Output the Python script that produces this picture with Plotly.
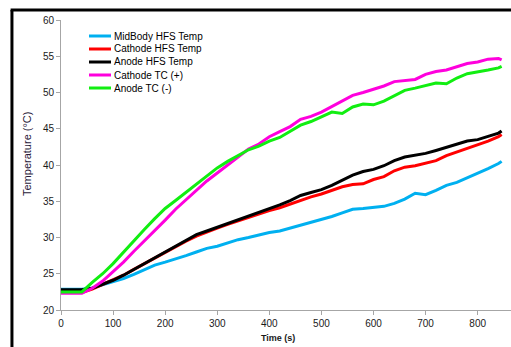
import plotly.graph_objects as go

time_s = [0, 20, 40, 60, 80, 100, 120, 140, 160, 180, 200, 220, 240, 260, 280, 300, 320, 340, 360, 380,
          400, 420, 440, 460, 480, 500, 520, 540, 560, 580, 600, 620, 640, 660, 680, 700, 720, 740, 760,
          780, 800, 820, 840, 846]

midbody_hfs = [22.85, 22.85, 22.85, 23.05, 23.45, 23.9, 24.35, 24.9, 25.6, 26.2, 26.6, 27.0, 27.5, 28.0,
               28.5, 28.8, 29.3, 29.7, 30.0, 30.4, 30.7, 30.9, 31.3, 31.7, 32.0, 32.4, 32.9, 33.4, 33.9,
               34.0, 34.1, 34.3, 34.7, 35.3, 36.1, 35.9, 36.5, 37.2, 37.6, 38.2, 38.9, 39.5, 40.2, 40.5]

cathode_hfs = [22.4, 22.4, 22.4, 22.9, 23.5, 24.1, 24.8, 25.6, 26.4, 27.2, 28.0, 28.8, 29.5, 30.2, 30.8,
               31.3, 31.8, 32.3, 32.8, 33.2, 33.7, 34.1, 34.6, 35.2, 35.6, 36.0, 36.5, 37.0, 37.3, 37.4,
               38.0, 38.4, 39.2, 39.7, 39.9, 40.3, 40.6, 41.3, 41.8, 42.3, 42.7, 43.3, 43.9, 44.2]

anode_hfs = [22.8, 22.8, 22.8, 23.0, 23.5, 24.1, 24.8, 25.6, 26.4, 27.2, 28.0, 28.9, 29.7, 30.4, 30.9,
             31.4, 31.9, 32.4, 33.0, 33.4, 33.9, 34.5, 35.1, 35.8, 36.2, 36.6, 37.2, 37.9, 38.6, 39.1,
             39.4, 39.9, 40.6, 41.1, 41.3, 41.6, 42.0, 42.4, 42.9, 43.3, 43.5, 44.0, 44.4, 44.7]

cathode_tc = [22.3, 22.3, 22.3, 23.0, 24.0, 25.3, 26.6, 28.1, 29.5, 31.0, 32.4, 33.9, 35.2, 36.6, 37.8,
              38.9, 40.0, 41.1, 42.2, 42.9, 43.9, 44.6, 45.3, 46.3, 46.7, 47.3, 48.1, 48.9, 49.6, 50.0,
              50.4, 50.9, 51.5, 51.7, 51.8, 52.5, 52.9, 53.1, 53.5, 54.0, 54.2, 54.6, 54.7, 54.5]

anode_tc = [22.5, 22.5, 22.5, 23.8, 25.0, 26.4, 28.0, 29.6, 31.1, 32.6, 34.0, 35.1, 36.2, 37.3, 38.5,
            39.6, 40.5, 41.3, 42.1, 42.6, 43.3, 43.8, 44.7, 45.5, 46.0, 46.7, 47.3, 47.1, 48.0, 48.4,
            48.3, 48.8, 49.5, 50.3, 50.6, 51.0, 51.3, 51.2, 52.0, 52.6, 52.8, 53.1, 53.4, 53.6]

series_names = ["MidBody HFS Temp", "Cathode HFS Temp", "Anode HFS Temp", "Cathode TC (+)", "Anode TC (-)"]
series_values = [midbody_hfs, cathode_hfs, anode_hfs, cathode_tc, anode_tc]
series_colors = ["#00B0F0", "#FF0000", "#000000", "#FF00DD", "#11EE11"]

x_ticks = [0, 100, 200, 300, 400, 500, 600, 700, 800]
y_ticks = [20, 25, 30, 35, 40, 45, 50, 55, 60]

FONT = "Liberation Sans"

fig = go.Figure()
for name, vals, col in zip(series_names, series_values, series_colors):
    fig.add_trace(go.Scatter(x=time_s, y=vals, mode="lines", name=name,
                             line=dict(color=col, width=3)))

axis_common = dict(showgrid=False, zeroline=False, showline=True, linecolor="#A6A6A6", linewidth=1,
                   ticks="outside", ticklen=4, tickcolor="#A6A6A6", tickwidth=1,
                   tickfont=dict(family=FONT, size=10, color="#1a1a1a"))

# manual compact legend (paper coordinates)
PLOT_L, PLOT_W, PLOT_B, PLOT_H = 61, 450, 310, 290
def px_x(px):
    return (px - PLOT_L) / PLOT_W
def px_y(py):
    return (PLOT_B - py) / PLOT_H

legend_rows_py = [36, 49, 62, 75, 88]
shapes = [
    dict(type="line", xref="paper", yref="paper", x0=-0.109, x1=-0.109, y0=-0.2, y1=1.0345,
         line=dict(color="black", width=3)),
    dict(type="line", xref="paper", yref="paper", x0=-0.112, x1=1.2, y0=1.0345, y1=1.0345,
         line=dict(color="black", width=3)),
]
annotations = [
    dict(text="<b>Time (s)</b>", xref="paper", yref="paper", x=px_x(278), y=px_y(338), showarrow=False,
         font=dict(family=FONT, size=9, color="#1a1a1a"), xanchor="center", yanchor="middle"),
    dict(text="Temperature (°C)", xref="paper", yref="paper", x=px_x(27), y=px_y(154), showarrow=False,
         textangle=-90, font=dict(family=FONT, size=11, color="#2a1a3a"),
         xanchor="center", yanchor="middle"),
]
for name, col, py in zip(series_names, series_colors, legend_rows_py):
    shapes.append(dict(type="line", xref="paper", yref="paper", x0=px_x(89), x1=px_x(111),
                       y0=px_y(py), y1=px_y(py), line=dict(color=col, width=3)))
    annotations.append(dict(text=name, xref="paper", yref="paper", x=px_x(112), y=px_y(py),
                            showarrow=False, xanchor="left", yanchor="middle",
                            font=dict(family=FONT, size=10, color="#000000")))

fig.update_layout(
    width=511, height=347,
    margin=dict(l=61, r=0, t=20, b=37),
    paper_bgcolor="white", plot_bgcolor="white",
    showlegend=False,
    xaxis=dict(range=[0, 864], tickvals=x_ticks, **axis_common),
    yaxis=dict(range=[20, 60], tickvals=y_ticks, **axis_common),
    annotations=annotations,
    shapes=shapes,
)

fig.write_html("out.html")
